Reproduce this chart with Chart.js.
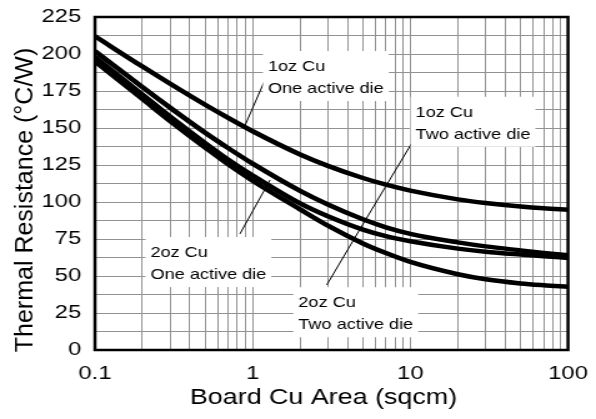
<!DOCTYPE html>
<html>
<head>
<meta charset="utf-8">
<script src="https://cdn.jsdelivr.net/npm/chart.js@4.4.1/dist/chart.umd.min.js"></script>
<style>
  html, body { margin: 0; padding: 0; background: #fff; }
</style>
</head>
<body>
<!-- drawn on a narrower canvas and stretched wide, so the lettering comes out broad -->
<canvas id="chart" width="477" height="419" style="width:596px;height:419px"></canvas>
<script>
// Board copper area, sqcm
const areaCm2 = [0.1, 0.2, 0.3, 0.5, 0.7, 1, 2, 3, 5, 7, 10, 20, 30, 50, 70, 100];

// Thermal resistance, °C/W
const oz1OneDie = [212, 191.5, 179.9, 165.7, 156.8, 147.8, 132.1, 124.4, 116.2, 111.7, 107.7, 101.8, 99.3, 96.9, 95.7, 94.8];
const oz2OneDie = [202, 177.6, 163.7, 146.8, 136.4, 125.9, 107.5, 98.3, 88.3, 82.9, 78.5, 72.7, 70.0, 67.3, 65.6, 64.0];
const oz1TwoDie = [198, 172.6, 157.7, 139.8, 128.6, 117.9, 99.0, 90.3, 81.3, 76.9, 73.5, 68.5, 66.4, 64.5, 63.4, 62.2];
const oz2TwoDie = [195, 169.6, 154.7, 136.8, 125.4, 114.4, 95, 84, 72, 65.5, 59.5, 51.2, 47.8, 45.0, 43.8, 42.8];

const xTickLabels = ['0.1', '1', '10', '100'];
const yTickLabels = ['0', '25', '50', '75', '100', '125', '150', '175', '200', '225'];

const STRETCH = 596 / 477;
const FONT = '"Liberation Sans", Arial, Helvetica, sans-serif';
const GRID = '#929292';

// log grid: 1..9 in every decade
const xGrid = [];
[0.1, 1, 10].forEach(dec => {
    for (let d = 1; d <= 9; d++) xGrid.push(Number((d * dec).toFixed(1)));
});
xGrid.push(100);

const yGrid = [];
for (let v = 0; v <= 225; v += 12.5) yGrid.push(v);

// callout boxes, placed in data units: text left/baseline + leader from/to
const callouts = [
    { lines: ['1oz Cu', 'One active die'], x: 1.25, y: 188.5, leader: [[1.18, 181], [0.88, 150]] },
    { lines: ['1oz Cu', 'Two active die'], x: 10.8, y: 157.6, leader: [[10.2, 139.7], [4.8, 81.8]] },
    { lines: ['2oz Cu', 'One active die'], x: 0.225, y: 62.8, leader: [[0.83, 78.4], [1.29, 114.9]] },
    { lines: ['2oz Cu', 'Two active die'], x: 1.95, y: 28.9, leader: [[2.95, 43.9], [4.8, 81.8]] }
];

const toPoints = vals => areaCm2.map((x, i) => ({ x, y: vals[i] }));

const curve = (label, vals) => ({
    label,
    data: toPoints(vals),
    borderColor: '#000',
    borderWidth: 4.5,
    pointRadius: 0,
    fill: false,
    cubicInterpolationMode: 'monotone'
});

// keep the plot frame where the layout padding puts it
const noLabelOverhang = s => { s.paddingLeft = 0; s.paddingRight = 0; s.paddingTop = 0; s.paddingBottom = 0; };

const calloutPlugin = {
    id: 'callouts',
    beforeDatasetsDraw(chart) {
        const { ctx, scales: { x, y } } = chart;
        ctx.save();
        ctx.strokeStyle = '#000';
        ctx.lineWidth = 1;
        callouts.forEach(c => {
            const [a, b] = c.leader;
            ctx.beginPath();
            ctx.moveTo(x.getPixelForValue(a[0]), y.getPixelForValue(a[1]));
            ctx.lineTo(x.getPixelForValue(b[0]), y.getPixelForValue(b[1]));
            ctx.stroke();
        });
        ctx.font = `14.5px ${FONT}`;
        ctx.fillStyle = '#fff';
        callouts.forEach(c => {
            const tx = x.getPixelForValue(c.x);
            const ty = y.getPixelForValue(c.y);
            const w = Math.max(...c.lines.map(t => ctx.measureText(t).width));
            ctx.fillRect(tx - 4, ty - 20, w + 8, 22 * (c.lines.length - 1) + 28);
        });
        ctx.restore();
    },
    afterDatasetsDraw(chart) {
        const { ctx, chartArea: area, scales: { x, y } } = chart;
        ctx.save();
        ctx.fillStyle = '#000';
        ctx.font = `14.5px ${FONT}`;
        ctx.textBaseline = 'alphabetic';
        callouts.forEach(c => {
            const tx = x.getPixelForValue(c.x);
            const ty = y.getPixelForValue(c.y);
            c.lines.forEach((t, i) => ctx.fillText(t, tx, ty + i * 22));
        });

        // frame round the plot
        ctx.strokeStyle = '#000';
        ctx.lineWidth = 2.5;
        ctx.strokeRect(area.left, area.top, area.right - area.left, area.bottom - area.top);

        // x title
        ctx.font = `21.5px ${FONT}`;
        ctx.textAlign = 'center';
        ctx.textBaseline = 'middle';
        ctx.fillText('Board Cu Area (sqcm)', 258.9, 398);

        // y title, squeezed back so it is not widened by the stretch
        ctx.translate(25.6, 200);
        ctx.scale(1 / STRETCH, 1);
        ctx.rotate(-Math.PI / 2);
        ctx.font = `25px ${FONT}`;
        ctx.textBaseline = 'alphabetic';
        ctx.fillText('Thermal Resistance (°C/W)', 0, 0);
        ctx.restore();
    }
};

new Chart(document.getElementById('chart'), {
    type: 'line',
    data: {
        datasets: [
            curve('1oz Cu One active die', oz1OneDie),
            curve('2oz Cu One active die', oz2OneDie),
            curve('1oz Cu Two active die', oz1TwoDie),
            curve('2oz Cu Two active die', oz2TwoDie)
        ]
    },
    options: {
        responsive: false,
        animation: false,
        devicePixelRatio: 1,
        layout: { padding: { left: 0, right: 22.4, top: 17, bottom: 0 } },
        plugins: {
            legend: { display: false },
            tooltip: { enabled: false }
        },
        scales: {
            x: {
                type: 'logarithmic',
                min: 0.1,
                max: 100,
                afterBuildTicks: s => { s.ticks = xGrid.map(v => ({ value: v })); },
                afterFit: s => { s.height = 69; noLabelOverhang(s); },
                grid: { color: GRID, lineWidth: 1, drawTicks: false },
                border: { display: false },
                ticks: {
                    autoSkip: false,
                    maxRotation: 0,
                    padding: 12,
                    color: '#000',
                    font: { family: FONT, size: 19 },
                    callback: v => xTickLabels.includes(String(v)) ? String(v) : ''
                }
            },
            y: {
                min: 0,
                max: 225,
                afterBuildTicks: s => { s.ticks = yGrid.map(v => ({ value: v })); },
                afterFit: s => { s.width = 76; noLabelOverhang(s); },
                grid: { color: GRID, lineWidth: 1, drawTicks: false },
                border: { display: false },
                ticks: {
                    autoSkip: false,
                    padding: 11,
                    color: '#000',
                    font: { family: FONT, size: 19 },
                    callback: v => yTickLabels.includes(String(v)) ? String(v) : ''
                }
            }
        }
    },
    plugins: [calloutPlugin]
});
</script>
</body>
</html>
